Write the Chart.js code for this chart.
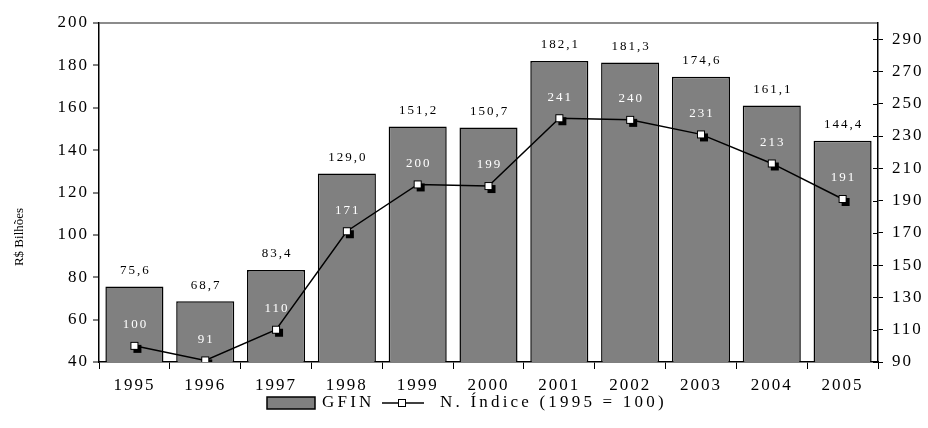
<!DOCTYPE html>
<html>
<head>
<meta charset="utf-8">
<script src="https://cdn.jsdelivr.net/npm/chart.js@4"></script>
<style>
  html, body { margin: 0; padding: 0; background: #fff; }
  #wrap { width: 928px; height: 428px; }
</style>
</head>
<body>
<div id="wrap"><canvas id="mychart" width="928" height="428"></canvas></div>
<script>
// GFIN em R$ bilhões e número índice (1995 = 100)
const years = ['1995', '1996', '1997', '1998', '1999', '2000', '2001', '2002', '2003', '2004', '2005'];
const gfin = [75.6, 68.7, 83.4, 129.0, 151.2, 150.7, 182.1, 181.3, 174.6, 161.1, 144.4];
const indice = [100, 91, 110, 171, 200, 199, 241, 240, 231, 213, 191];
const leftTicks = [40, 60, 80, 100, 120, 140, 160, 180, 200];
const rightTicks = [90, 110, 130, 150, 170, 190, 210, 230, 250, 270, 290];

const serif = "'Liberation Serif', 'Times New Roman', serif";
Chart.defaults.font.family = serif;
Chart.defaults.color = '#000';

// white square marker with a black drop shadow
function squareMarker() {
  const c = document.createElement('canvas');
  c.width = 16; c.height = 16;
  const g = c.getContext('2d');
  g.fillStyle = '#000';
  g.fillRect(7, 7, 8, 8);
  g.fillStyle = '#fff';
  g.fillRect(4, 4, 8, 8);
  g.strokeStyle = '#000';
  g.lineWidth = 1;
  g.strokeRect(4.5, 4.5, 7, 7);
  return c;
}
const marker = squareMarker();

function fmt(v) {
  return v.toFixed(1).replace('.', ',');
}

// wider letter spacing for all text
const spacing = {
  id: 'spacing',
  beforeDraw(chart) {
    chart.ctx.letterSpacing = '2px';
  }
};

// value labels, axis title, inner ticks of right axis, legend
const extras = {
  id: 'extras',
  afterDatasetsDraw(chart) {
    const ctx = chart.ctx;
    const bars = chart.getDatasetMeta(1).data;
    const pts = chart.getDatasetMeta(0).data;
    ctx.save();
    ctx.textAlign = 'center';
    ctx.textBaseline = 'middle';
    ctx.font = '13px ' + serif;
    bars.forEach((b, i) => {
      ctx.fillStyle = '#000';
      ctx.fillText(fmt(gfin[i]), b.x + 1, b.y - 16);
      ctx.fillStyle = '#fff';
      ctx.fillText(String(indice[i]), b.x + 1, pts[i].y - 21);
    });
    ctx.restore();
  },
  afterDraw(chart) {
    const ctx = chart.ctx;
    const area = chart.chartArea;
    const r = chart.scales.y1;
    ctx.save();
    // right axis tick marks crossing inward
    ctx.strokeStyle = '#000';
    ctx.lineWidth = 1;
    rightTicks.forEach(v => {
      const y = Math.round(r.getPixelForValue(v)) + 0.5;
      ctx.beginPath();
      ctx.moveTo(area.right - 5, y);
      ctx.lineTo(area.right, y);
      ctx.stroke();
    });

    // axis title
    ctx.letterSpacing = '0px';
    ctx.fillStyle = '#000';
    ctx.font = '13px ' + serif;
    ctx.textAlign = 'center';
    ctx.textBaseline = 'middle';
    ctx.translate(20, 237);
    ctx.rotate(-Math.PI / 2);
    ctx.fillText('R$ Bilhões', 0, 0);
    ctx.setTransform(1, 0, 0, 1, 0, 0);

    // legend
    const ly = 403;
    ctx.letterSpacing = '3.2px';
    ctx.fillStyle = '#808080';
    ctx.fillRect(267, ly - 6, 48, 12);
    ctx.strokeStyle = '#000';
    ctx.lineWidth = 1.5;
    ctx.strokeRect(267, ly - 6, 48, 12);
    ctx.fillStyle = '#000';
    ctx.font = '17px ' + serif;
    ctx.textAlign = 'left';
    ctx.fillText('GFIN', 322, ly);
    ctx.beginPath();
    ctx.moveTo(382, ly);
    ctx.lineTo(424, ly);
    ctx.stroke();
    ctx.fillStyle = '#fff';
    ctx.fillRect(398, ly - 4, 8, 8);
    ctx.lineWidth = 1;
    ctx.strokeRect(398.5, ly - 3.5, 7, 7);
    ctx.fillStyle = '#000';
    ctx.fillText('N. Índice (1995 = 100)', 440, ly);
    ctx.restore();
  }
};

const ctx = document.getElementById('mychart');

new Chart(ctx, {
  data: {
    labels: years,
    datasets: [
      {
        type: 'line',
        label: 'N. Índice (1995 = 100)',
        data: indice,
        yAxisID: 'y1',
        borderColor: '#000',
        borderWidth: 1.5,
        pointStyle: marker,
        pointRadius: 5,
        tension: 0,
        order: 0
      },
      {
        type: 'bar',
        label: 'GFIN',
        data: gfin,
        yAxisID: 'y',
        backgroundColor: '#808080',
        borderColor: '#000',
        borderWidth: 1.5,
        barPercentage: 0.82,
        categoryPercentage: 1,
        order: 1
      }
    ]
  },
  options: {
    responsive: false,
    animation: false,
    layout: { padding: { top: 23, left: 0, right: 0, bottom: 0 } },
    plugins: {
      legend: { display: false },
      tooltip: { enabled: false }
    },
    scales: {
      x: {
        grid: {
          offset: true,
          color: 'transparent',
          tickColor: '#000',
          tickLength: 7,
          tickWidth: 1
        },
        border: { color: '#000', width: 1.5 },
        ticks: { font: { size: 17 }, padding: 6 },
        afterFit(scale) { scale.height = 66; }
      },
      y: {
        position: 'left',
        min: 40,
        max: 200,
        afterBuildTicks(scale) { scale.ticks = leftTicks.map(v => ({ value: v })); },
        grid: {
          color: c => (c.tick && c.tick.value === 200 ? '#8c8c8c' : 'transparent'),
          lineWidth: 2,
          tickColor: '#000',
          tickLength: 6,
          tickWidth: 1
        },
        border: { color: '#000', width: 1.5 },
        ticks: { font: { size: 17 }, padding: 4 },
        afterFit(scale) { scale.width = 99; }
      },
      y1: {
        position: 'right',
        min: 90,
        max: 300,
        afterBuildTicks(scale) { scale.ticks = rightTicks.map(v => ({ value: v })); },
        grid: {
          drawOnChartArea: false,
          tickColor: '#000',
          tickLength: 5,
          tickWidth: 1
        },
        border: { color: '#000', width: 1.5 },
        ticks: { font: { size: 17 }, padding: 9 },
        afterFit(scale) { scale.width = 50; }
      }
    }
  },
  plugins: [spacing, extras]
});
</script>
</body>
</html>
